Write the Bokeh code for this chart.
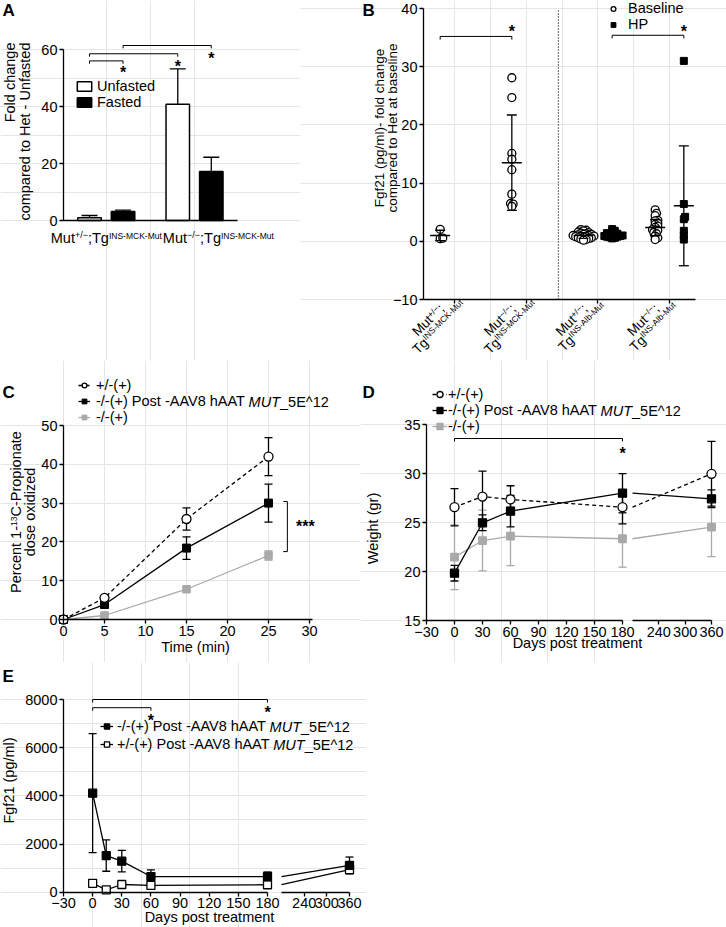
import math
from bokeh.plotting import figure
from bokeh.layouts import row, column
from bokeh.models import (ColumnDataSource, Whisker, TeeHead, Label, Legend,
                          LegendItem, FixedTicker, Range1d, LinearAxis)
from bokeh.core.properties import value
from bokeh.embed import file_html
from bokeh.resources import INLINE

FONT = "Liberation Sans"
FS = 14.5
SUP = 8.5
GRAY = "#a9a9a9"
LW = 1.3
MINUS = "\u2212"
MID = 0.35  # em distance from alphabetic baseline to the text middle

# ---------------- Panel A data ----------------
A_groups = [1, 2]
A_geno = ["+/" + MINUS, MINUS + "/" + MINUS]
A_tg = ["INS-MCK-Mut", "INS-MCK-Mut"]
A_unfasted = [0.94, 40.8]
A_unfasted_err = [0.81, 12.4]
A_fasted = [3.16, 17.2]
A_fasted_err = [0.45, 5.0]
A_yticks = [0, 20, 40, 60]
A_sig_x0 = [0.81, 0.81, 1.19]
A_sig_x1 = [1.19, 1.81, 2.19]
A_sig_y = [56.0, 58.5, 61.4]
A_star_y = [53.4, 55.5, 58.2]

# ---------------- Panel B data ----------------
B_groups = [1, 2, 3, 4]
B_geno = ["+/" + MINUS, MINUS + "/" + MINUS, "+/" + MINUS, MINUS + "/" + MINUS]
B_tg = ["INS-MCK-Mut", "INS-MCK-Mut", "INS-Alb-Mut", "INS-Alb-Mut"]
B_baseline = [
    [2.06, 0.45, 0.55],
    [28.1, 24.7, 15.1, 14.1, 12.3, 8.1, 6.5, 6.4, 6.0],
    [2.0, 1.9, 1.8, 1.6, 1.5, 1.4, 1.3, 1.2, 1.2, 1.1, 1.0, 1.0, 0.9, 0.9,
     0.8, 0.8, 0.7, 0.6, 0.6, 0.5, 0.4, 0.3, 0.2],
    [5.4, 4.8, 4.4, 3.6, 3.5, 3.1, 2.9, 2.6, 2.4, 2.0, 1.9, 1.9, 1.5, 1.3,
     0.9, 0.6, 0.3],
]
B_hp = [
    [],
    [],
    [2.1, 1.8, 1.5, 1.4, 1.3, 1.2, 1.1, 1.0, 1.0, 0.9, 0.9, 0.8, 0.8, 0.7,
     0.6, 0.5],
    [31.0, 6.4, 4.2, 3.8, 1.8, 1.0, 0.3],
]
B_base_mean = [1.0, 13.5, 1.0, 2.35]
B_base_sd = [0.9, 8.2, 0.5, 1.4]
B_hp_groups = [3, 4]
B_hp_mean = [1.05, 6.1]
B_hp_sd = [0.4, 10.3]
B_yticks = [-10, 0, 10, 20, 30, 40]
B_divider = 2.45
B_sig_x0 = [0.8, 3.2]
B_sig_x1 = [1.8, 4.2]
B_sig_y = [35.2, 35.4]
B_star_y = [36.6, 36.6]

# ---------------- Panel C data ----------------
C_time = [0, 5, 15, 25]
C_het = [0, 5.58, 25.9, 42.0]
C_het_err = [0, 0.5, 2.85, 4.9]
C_treated = [0, 3.86, 18.4, 30.0]
C_treated_err = [0, 0.4, 2.9, 4.9]
C_ko = [0, 1.03, 7.8, 16.5]
C_ko_err = [0, 0.3, 0.5, 1.2]
C_xticks = [0, 5, 10, 15, 20, 25, 30]
C_yticks = [0, 10, 20, 30, 40, 50]

# ---------------- Panel D data ----------------
D_days = [0, 30, 60, 180, 360]
D_het = [26.56, 27.65, 27.35, 26.56, 29.97]
D_het_err = [1.9, 2.6, 1.4, 1.7, 3.3]
D_treated = [19.83, 24.97, 26.16, 27.99, 27.42]
D_treated_err = [0.8, 0.8, 1.6, 2.0, 0.9]
D_ko = [21.46, 23.16, 23.60, 23.34, 24.52]
D_ko_err = [3.3, 3.1, 3.0, 2.9, 3.0]
D_yticks = [15, 20, 25, 30, 35]
DAY_TICKS_1 = [-30, 0, 30, 60, 90, 120, 150, 180]
DAY_TICKS_2 = [240, 300, 360]

# ---------------- Panel E data ----------------
E_days = [0, 14, 30, 60, 180, 360]
E_ko_treated = [4110, 1520, 1290, 650, 650, 1110]
E_ko_treated_err = [2470, 650, 450, 280, 190, 350]
E_het_treated = [370, 100, 320, 280, 310, 940]
E_het_treated_err = [60, 40, 60, 40, 40, 110]
E_yticks = [0, 2000, 4000, 6000, 8000]

LEG_HET = "+/-(+)"
LEG_TREATED = "-/-(+) Post -AAV8 hAAT"
LEG_KO = "-/-(+)"
LEG_HET_TREATED = "+/-(+) Post -AAV8 hAAT"
LEG_TAIL = ["MUT", "_5E^12"]

# ---------------- helpers ----------------
CW = {'M': .833, 'u': .556, 't': .278, '+': .584, '/': .278, MINUS: .584, '-': .333,
      ';': .278, 'T': .611, 'g': .556, 'I': .278, 'N': .722, 'S': .667, 'C': .722,
      'K': .667, 'A': .667, 'l': .222, 'b': .556, ' ': .278, 'P': .667, 'e': .556,
      'r': .333, 'c': .5, 'n': .556, 'o': .556, 'p': .556, 'i': .222, 'a': .556,
      'd': .556, 's': .5, 'x': .5, 'z': .5, 'U': .722, '_': .556, 'E': .667, '^': .469,
      '(': .333, ')': .333, 'V': .667, 'h': .556, 'F': .611, 'f': .278, 'm': .833,
      'H': .722, 'W': .944, 'D': .722, 'y': .5, 'k': .5}


def tw(s, size):
    return sum(CW.get(c, 0.556) for c in s) * size


class Pan:
    """A figure whose frame fills its whole canvas; (ox, oy) = canvas origin on page."""

    def __init__(self, ox, oy, W, H, xa, xb, ya, yb, seg2=None):
        self.ox, self.oy, self.W, self.H = ox, oy, W, H
        (self.px0, self.d0), (px1, d1) = xa, xb
        self.kx = (d1 - self.d0) / (px1 - self.px0)
        (self.py0, self.e0), (py1, e1) = ya, yb
        self.ky = (e1 - self.e0) / (py1 - self.py0)
        p = figure(width=W, height=H,
                   x_range=Range1d(self.fx(ox), self.fx(ox + W)),
                   y_range=Range1d(self.fy(oy + H), self.fy(oy)),
                   output_backend="svg", toolbar_location=None, tools="",
                   min_border=0, x_axis_location=None, y_axis_location=None)
        p.outline_line_color = None
        p.background_fill_color = "white"
        p.border_fill_color = "white"
        if seg2:
            (qx0, s0), (qx1, s1) = seg2
            k2 = (s1 - s0) / (qx1 - qx0)
            p.extra_x_ranges = {"seg2": Range1d(s0 + (ox - qx0) * k2,
                                                s0 + (ox + W - qx0) * k2)}
        self.p = p

    def fx(self, px):
        return self.d0 + (px - self.px0) * self.kx

    def fy(self, py):
        return self.e0 + (py - self.py0) * self.ky


def axis(P, side, loc, bounds, ticks, xr="default", overrides=None, tick_out=4):
    ax = LinearAxis(fixed_location=loc, bounds=bounds, ticker=FixedTicker(ticks=ticks),
                    x_range_name=xr)
    ax.axis_line_width = LW
    ax.axis_line_color = "black"
    ax.major_tick_line_width = LW
    ax.major_tick_line_color = "black"
    ax.major_tick_out = tick_out
    ax.major_tick_in = 0
    ax.minor_tick_line_color = None
    ax.major_label_text_font = FONT
    ax.major_label_text_font_size = f"{FS}px"
    ax.major_label_text_color = "black"
    ax.major_label_standoff = 2
    if overrides is not None:
        ax.major_label_overrides = overrides
    P.p.add_layout(ax, side)


def lab(p, x, y, s, dx=0, dy=0, size=FS, angle=0.0, align="left", base=True,
        style="normal"):
    """(x, y)+offset is the alphabetic baseline point unless base is False (middle)."""
    if base:
        dx += -math.sin(angle) * MID * size
        dy += math.cos(angle) * MID * size
    p.add_layout(Label(x=x, y=y, x_offset=dx, y_offset=dy, text=s, angle=angle,
                       text_font=FONT, text_font_size=f"{size}px",
                       text_font_style=style, text_align=align,
                       text_baseline="middle", text_color="black"))


def tref(P, rx, ry, s, **kw):
    lab(P.p, P.fx(rx), P.fy(ry), s, **kw)


def rich(p, x, y, pieces, dx=0, dy=0, angle=0.0, align="left"):
    total = sum(tw(t, s) for t, s, _ in pieces)
    start = {"left": 0.0, "center": -total / 2, "right": -total}[align]
    ux, uy = math.cos(angle), math.sin(angle)
    vx, vy = -math.sin(angle), math.cos(angle)
    pos = start
    for t, s, rz in pieces:
        lab(p, x, y, t, dx + pos * ux + rz * vx, dy + pos * uy + rz * vy,
            size=s, angle=angle)
        pos += tw(t, s)
    return total


def star(p, x, y, s="*"):
    lab(p, x, y, s, dy=-3.7, size=16, align="center", style="bold", base=False)


def brackets(p, x0s, x1s, ys, drop):
    xs = [[a, a, b, b] for a, b in zip(x0s, x1s)]
    yy = [[y - drop, y, y, y - drop] for y in ys]
    p.multi_line(xs=xs, ys=yy, line_color="black", line_width=1.0)


def whisk(p, xs, ys, errs, head=8, color="black", level="underlay", xr="default",
          up_only=False):
    keep = [i for i, e in enumerate(errs) if e > 0]
    src = ColumnDataSource(dict(x=[xs[i] for i in keep],
                                lo=[ys[i] if up_only else ys[i] - errs[i] for i in keep],
                                hi=[ys[i] + errs[i] for i in keep]))
    w = Whisker(source=src, base="x", lower="lo", upper="hi", line_color=color,
                line_width=LW, level=level, x_range_name=xr,
                upper_head=TeeHead(size=head, line_color=color, line_width=LW),
                lower_head=None if up_only else TeeHead(size=head, line_color=color,
                                                        line_width=LW))
    p.add_layout(w)


def legend(P, items, glyph_left, row1, h, gw, standoff, gh=None):
    n = len(items)
    top = row1 - h / 2 - P.oy
    lg = Legend(items=items, location=(glyph_left - P.ox, P.H - top - n * h),
                orientation="vertical", glyph_width=int(gw),
                glyph_height=int(gh or h), label_height=int(h), label_width=10,
                label_standoff=int(standoff), spacing=0, padding=0, margin=0,
                border_line_color=None, background_fill_alpha=0,
                label_text_font=FONT, label_text_font_size=f"{FS}px",
                label_text_color="black")
    P.p.add_layout(lg)


def legend_tail(P, glyph_left, row1, h, i, gw, standoff, head):
    x = glyph_left + gw + standoff + tw(head + " ", FS) - 3
    y = row1 + i * h
    tref(P, x, y, LEG_TAIL[0], base=False, style="italic")
    tref(P, x + tw(LEG_TAIL[0], FS), y, LEG_TAIL[1], base=False)


def swarm(vals, ypx, xpx, dmin=2.4, step=1.3):
    order = sorted(range(len(vals)), key=lambda i: vals[i])
    placed, offs = [], [0.0] * len(vals)
    cands = [0]
    for j in range(1, 60):
        cands += [j, -j]
    for i in order:
        yp = vals[i] * ypx
        xo = 0.0
        for c in cands:
            xo = c * step
            if all((xo - a) ** 2 + (yp - b) ** 2 >= dmin ** 2 for a, b in placed):
                break
        placed.append((xo, yp))
        offs[i] = xo / xpx
    return offs


def sel(a, idx):
    return [a[i] for i in idx]


ROT = math.pi / 2

# ======================= Panel A =======================
PA = Pan(0, 0, 300, 360, (63, 0.515), (237, 2.487), (220, 0), (49, 60))
pA = PA.p
A_XPX = 1 / PA.kx
axis(PA, "left", PA.fx(63), (0, 60), A_yticks)
axis(PA, "below", 0, (PA.fx(63), PA.fx(237)), [], tick_out=0)
AOFF, ABW = 0.19, 0.266
xU = [g - AOFF for g in A_groups]
xF = [g + AOFF for g in A_groups]
whisk(pA, xU, A_unfasted, A_unfasted_err, head=16, up_only=True)
whisk(pA, xF, A_fasted, A_fasted_err, head=16, up_only=True)
rU = pA.vbar(x=xU, top=A_unfasted, width=ABW, bottom=0, fill_color="white",
             line_color="black", line_width=1.5)
rF = pA.vbar(x=xF, top=A_fasted, width=ABW, bottom=0, fill_color="black",
             line_color="black", line_width=1.5)
legend(PA, [LegendItem(label=value("Unfasted"), renderers=[rU]),
            LegendItem(label=value("Fasted"), renderers=[rF])],
       75, 85.5, 16, 18, 4, gh=12)
brackets(pA, A_sig_x0, A_sig_x1, A_sig_y, 1.0)
for x1, ys in zip(A_sig_x1, A_star_y):
    star(pA, x1, ys)
w1 = None
for i, g in enumerate(A_groups):
    pieces = [("Mut", FS, 0), (A_geno[i], 9, 4.5), (";Tg", FS, 0), (A_tg[i], SUP, 4.3)]
    W = sum(tw(t, s) for t, s, _ in pieces)
    if i == 0:
        w1 = W
        rich(pA, g, 0, pieces, dx=-W / 2, dy=-22.3)
    else:
        rich(pA, g, 0, pieces, dx=w1 / 2 + 1 - A_XPX * (g - A_groups[0]), dy=-22.3)
tref(PA, 14.5, 42, "Fold change", angle=ROT, align="right")
tref(PA, 29.5, 42, "compared to Het - Unfasted", angle=ROT, align="right")
tref(PA, 2, 16, "A", size=17, style="bold")

# ======================= Panel B =======================
PB = Pan(300, 0, 426, 360, (454, 1), (669, 4), (299, -10), (8, 40))
pB = PB.p
B_XPX = 1 / PB.kx
B_YPX = -1 / PB.ky
B_x0, B_x1 = PB.fx(423), PB.fx(695)
axis(PB, "left", B_x0, (-10, 40), B_yticks)
axis(PB, "below", -10, (B_x0, B_x1), B_groups, overrides={g: "" for g in B_groups})
pB.segment(x0=[B_divider], y0=[-10], x1=[B_divider], y1=[PB.fy(10)], line_color="black",
           line_dash="1 2", line_width=1.2)
BOFF = 0.2
r_base = r_hp = None
for i, g in enumerate(B_groups):
    vals = B_baseline[i]
    offs = swarm(vals, B_YPX, B_XPX)
    r = pB.scatter([g - BOFF + o for o in offs], vals, marker="circle", size=8,
                   fill_color="white", line_color="black", line_width=1.3)
    r_base = r_base or r
    if B_hp[i]:
        vals = B_hp[i]
        offs = swarm(vals, B_YPX, B_XPX)
        r2 = pB.scatter([g + BOFF + o for o in offs], vals, marker="square", size=7,
                        fill_color="black", line_color="black")
        r_hp = r_hp or r2
xb = [g - BOFF for g in B_groups]
xh = [g + BOFF for g in B_hp_groups]
whisk(pB, xb, B_base_mean, B_base_sd, head=10, level="annotation")
whisk(pB, xh, B_hp_mean, B_hp_sd, head=10, level="annotation")
pB.scatter(xb, B_base_mean, marker="dash", size=20, line_color="black", line_width=1.5)
pB.scatter(xh, B_hp_mean, marker="dash", size=20, line_color="black", line_width=1.5)
legend(PB, [LegendItem(label=value("Baseline"), renderers=[r_base]),
            LegendItem(label=value("HP"), renderers=[r_hp])], 607, 9.5, 15, 12, 9)
brackets(pB, B_sig_x0, B_sig_x1, B_sig_y, 0.55)
for x1, ys in zip(B_sig_x1, B_star_y):
    star(pB, x1, ys)
ang = math.pi / 4
for i, g in enumerate(B_groups):
    rich(pB, g, -10, [("Mut", 13.5, 0), (B_geno[i], SUP, 4.5), (";", 13.5, 0)],
         dx=-22.9, dy=-23.9, angle=ang, align="center")
    rich(pB, g, -10, [("Tg", 13.5, 0), (B_tg[i], SUP, 4.5)],
         dx=-12.1, dy=-31.1, angle=ang, align="center")
tref(PB, 383.5, 127.5, "Fgf21 (pg/ml)- fold change", size=13.5, angle=ROT,
     align="center")
tref(PB, 396.5, 127.5, "compared to Het at baseline", size=13.5, angle=ROT,
     align="center")
tref(PB, 362, 16, "B", size=17, style="bold")

# ======================= Panel C =======================
PC = Pan(0, 360, 360, 302, (63, 0), (309, 30), (619, 0), (425, 50))
pC = PC.p
axis(PC, "left", 0, (0, 50), C_yticks)
axis(PC, "below", 0, (0, PC.fx(312)), C_xticks)
whisk(pC, C_time, C_ko, C_ko_err, color=GRAY)
whisk(pC, C_time, C_treated, C_treated_err)
whisk(pC, C_time, C_het, C_het_err)
lk = pC.line(C_time, C_ko, line_color=GRAY, line_width=LW)
sk = pC.scatter(C_time, C_ko, marker="square", size=7.5, fill_color=GRAY, line_color=GRAY)
lt = pC.line(C_time, C_treated, line_color="black", line_width=LW)
st = pC.scatter(C_time, C_treated, marker="square", size=8, fill_color="black",
                line_color="black")
lh = pC.line(C_time, C_het, line_color="black", line_width=LW, line_dash="4 3")
sh = pC.scatter(C_time, C_het, marker="circle", size=9, fill_color="white",
                line_color="black", line_width=LW)
C_LEG = (78, 385, 16, 12, 6)
legend(PC, [LegendItem(label=value(LEG_HET), renderers=[lh, sh]),
            LegendItem(label=value(LEG_TREATED), renderers=[lt, st]),
            LegendItem(label=value(LEG_KO), renderers=[lk, sk])], *C_LEG)
legend_tail(PC, C_LEG[0], C_LEG[1], C_LEG[2], 1, C_LEG[3], C_LEG[4], LEG_TREATED)
pC.multi_line(xs=[[26.8, 27.3, 27.3, 26.8]],
              ys=[[C_treated[-1] + 0.4, C_treated[-1] + 0.4, C_ko[-1] + 1.0, C_ko[-1] + 1.0]],
              line_color="black", line_width=1.0)
star(pC, 29.5, 25.0, s="***")
rich(pC, PC.fx(21), PC.fy(511.5),
     [("Percent 1-", FS, 0), ("13", SUP, 4.5), ("C-Propionate", FS, 0)],
     angle=ROT, align="center")
tref(PC, 35, 511.5, "dose oxidized", angle=ROT, align="center")
tref(PC, 195, 652, "Time (min)", align="center")
tref(PC, 2, 398, "C", size=17, style="bold")

# ======================= Panel D (broken x axis) =======================
PD = Pan(360, 360, 366, 302, (426, -30), (622, 180), (620, 15), (424, 35),
         seg2=((632, 180), (711, 360)))
pD = PD.p
axis(PD, "left", -30, (15, 35), D_yticks)
axis(PD, "below", 15, (-30, 180), DAY_TICKS_1)
axis(PD, "below", 15, (180, 360), DAY_TICKS_2, xr="seg2")
s1 = [i for i, d in enumerate(D_days) if d <= 180]
s2 = [i for i, d in enumerate(D_days) if d >= 180]
s2m = [i for i, d in enumerate(D_days) if d > 180]
D_series = [(D_ko, D_ko_err, GRAY, "square", 7.5, GRAY, None),
            (D_treated, D_treated_err, "black", "square", 8, "black", None),
            (D_het, D_het_err, "black", "circle", 9, "white", "4 3")]
D_rend = []
for ys, es, col, mk, sz, fill, dash in D_series:
    whisk(pD, sel(D_days, s1), sel(ys, s1), sel(es, s1), color=col)
    whisk(pD, sel(D_days, s2m), sel(ys, s2m), sel(es, s2m), color=col, xr="seg2")
    kw = dict(line_color=col, line_width=LW)
    if dash:
        kw["line_dash"] = dash
    l1 = pD.line(sel(D_days, s1), sel(ys, s1), **kw)
    pD.line(sel(D_days, s2), sel(ys, s2), x_range_name="seg2", **kw)
    m1 = pD.scatter(sel(D_days, s1), sel(ys, s1), marker=mk, size=sz, fill_color=fill,
                    line_color=col, line_width=LW)
    pD.scatter(sel(D_days, s2m), sel(ys, s2m), marker=mk, size=sz, fill_color=fill,
               line_color=col, line_width=LW, x_range_name="seg2")
    D_rend.append([l1, m1])
D_LEG = (432, 394, 16, 15, 1)
legend(PD, [LegendItem(label=value(LEG_HET), renderers=D_rend[2]),
            LegendItem(label=value(LEG_TREATED), renderers=D_rend[1]),
            LegendItem(label=value(LEG_KO), renderers=D_rend[0])], *D_LEG)
legend_tail(PD, D_LEG[0], D_LEG[1], D_LEG[2], 1, D_LEG[3], D_LEG[4], LEG_TREATED)
brackets(pD, [0], [180], [33.57], 0.3)
star(pD, 180, 32.45)
tref(PD, 377.5, 528, "Weight (gr)", angle=ROT, align="center")
tref(PD, 577, 647.5, "Days post treatment", align="center")
tref(PD, 362, 398, "D", size=17, style="bold")

# ======================= Panel E (broken x axis) =======================
PE = Pan(0, 662, 366, 265, (63, -30), (267, 180), (891.7, 0), (699, 8000),
         seg2=((281, 180), (349, 360)))
pE = PE.p
axis(PE, "left", -30, (0, 8000), E_yticks)
axis(PE, "below", 0, (-30, 180), DAY_TICKS_1)
axis(PE, "below", 0, (180, 360), DAY_TICKS_2, xr="seg2")
e1 = [i for i, d in enumerate(E_days) if d <= 180]
e2 = [i for i, d in enumerate(E_days) if d >= 180]
e2m = [i for i, d in enumerate(E_days) if d > 180]
E_series = [(E_het_treated, E_het_treated_err, "white"),
            (E_ko_treated, E_ko_treated_err, "black")]
E_rend = []
for ys, es, fill in E_series:
    whisk(pE, sel(E_days, e1), sel(ys, e1), sel(es, e1))
    whisk(pE, sel(E_days, e2m), sel(ys, e2m), sel(es, e2m), xr="seg2")
    l1 = pE.line(sel(E_days, e1), sel(ys, e1), line_color="black", line_width=LW)
    pE.line(sel(E_days, e2), sel(ys, e2), line_color="black", line_width=LW,
            x_range_name="seg2")
    m1 = pE.scatter(sel(E_days, e1), sel(ys, e1), marker="square", size=8,
                    fill_color=fill, line_color="black", line_width=LW)
    pE.scatter(sel(E_days, e2m), sel(ys, e2m), marker="square", size=8,
               fill_color=fill, line_color="black", line_width=LW, x_range_name="seg2")
    E_rend.append([l1, m1])
E_LEG = (100, 726, 18, 13, 4)
legend(PE, [LegendItem(label=value(LEG_TREATED), renderers=E_rend[1]),
            LegendItem(label=value(LEG_HET_TREATED), renderers=E_rend[0])], *E_LEG)
legend_tail(PE, E_LEG[0], E_LEG[1], E_LEG[2], 0, E_LEG[3], E_LEG[4], LEG_TREATED)
legend_tail(PE, E_LEG[0], E_LEG[1], E_LEG[2], 1, E_LEG[3], E_LEG[4], LEG_HET_TREATED)
brackets(pE, [0, 0], [180, 60], [8000, 7660], 125)
star(pE, 180, 7630)
star(pE, 60, 7296)
tref(PE, 13.5, 780, "Fgf21 (pg/ml)", angle=ROT, align="center")
tref(PE, 209, 922, "Days post treatment", align="center")
tref(PE, 2, 682, "E", size=17, style="bold")

layout = column(row(pA, pB), row(pC, pD), pE)
open("out.html", "w").write(file_html(layout, INLINE))
